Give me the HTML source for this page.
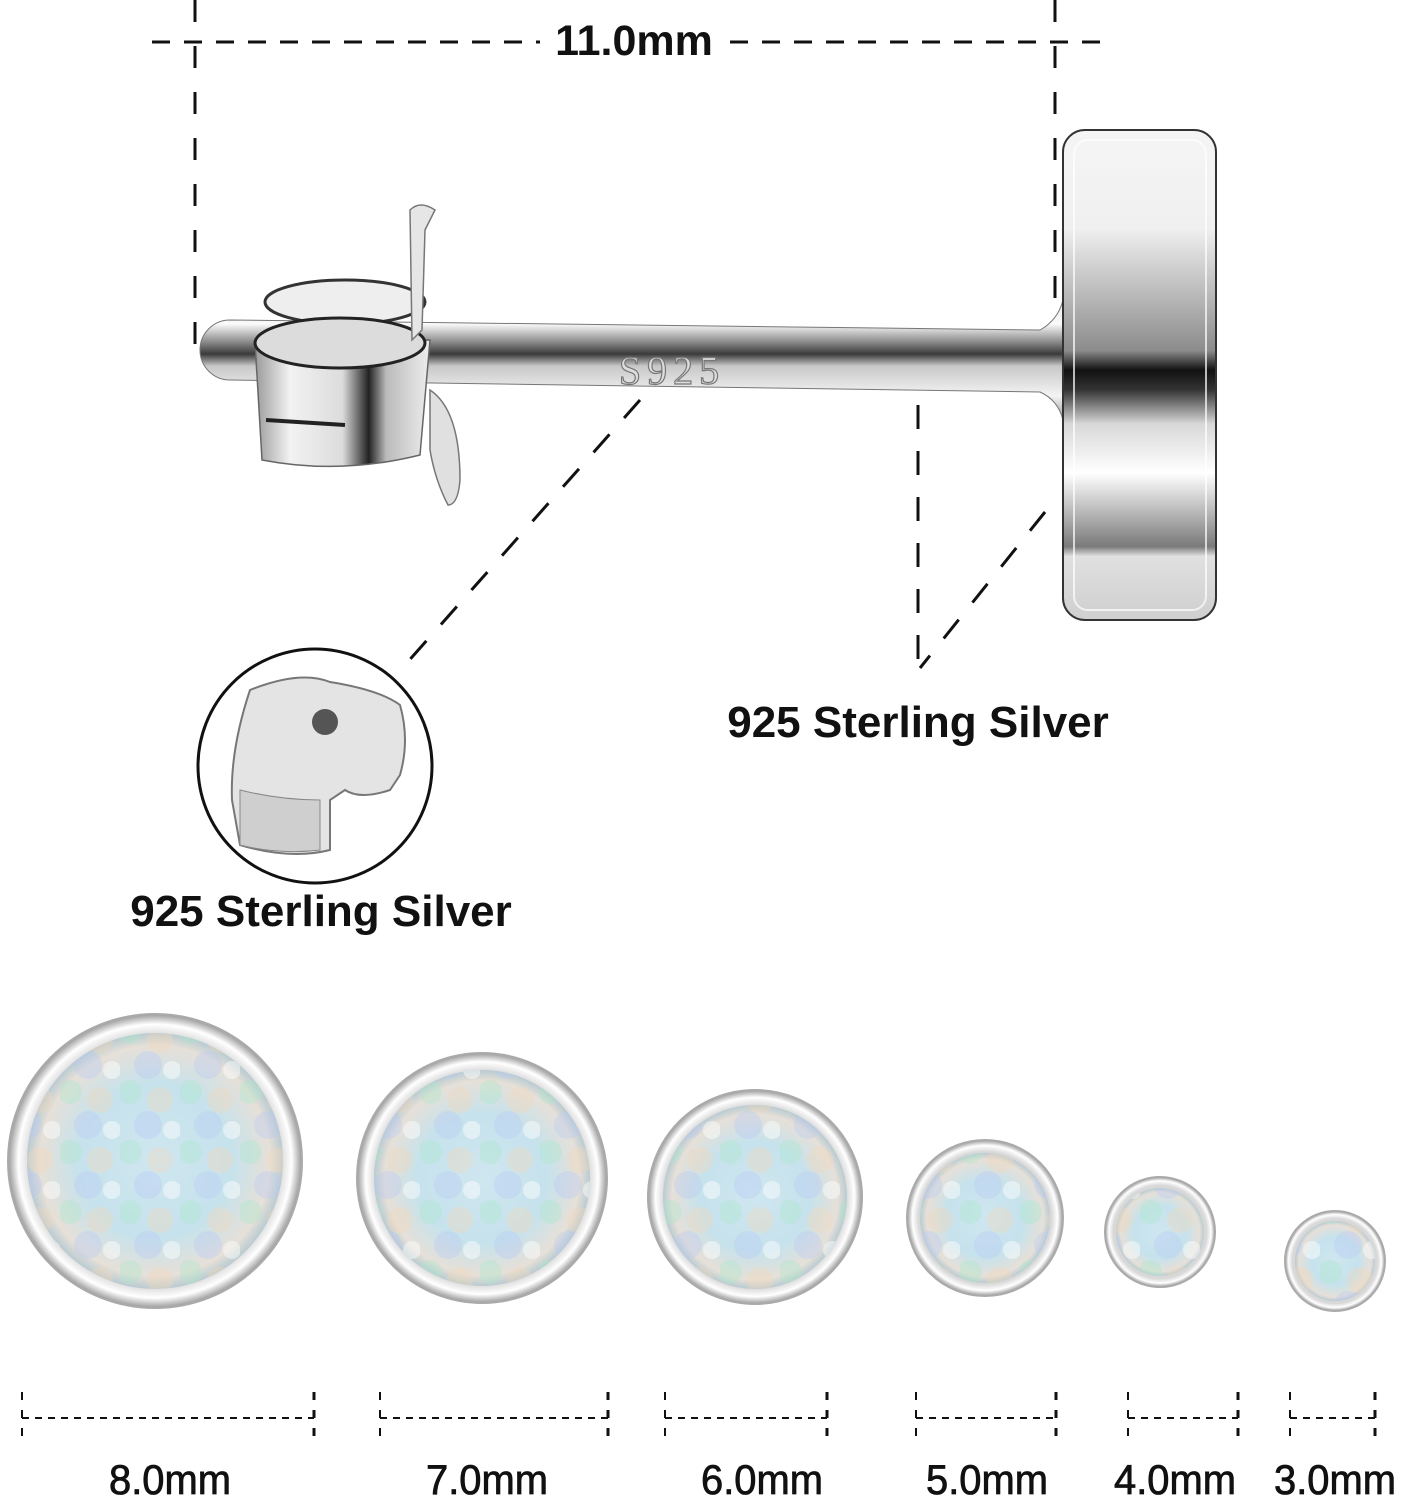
<!DOCTYPE html>
<html><head><style>
html,body{margin:0;padding:0;background:#fff;}
svg{display:block}
</style></head><body>
<svg width="1403" height="1500" viewBox="0 0 1403 1500" xmlns="http://www.w3.org/2000/svg">
<defs>
<linearGradient id="rod" x1="0" y1="0" x2="0" y2="1">
<stop offset="0" stop-color="#e8e8e8"/><stop offset="0.2" stop-color="#fafafa"/><stop offset="0.35" stop-color="#8a8a8a"/><stop offset="0.45" stop-color="#3a3a3a"/><stop offset="0.55" stop-color="#c8c8c8"/><stop offset="0.8" stop-color="#f4f4f4"/><stop offset="1" stop-color="#9a9a9a"/>
</linearGradient>
<linearGradient id="head" x1="0" y1="0" x2="0" y2="1">
<stop offset="0" stop-color="#f5f5f5"/><stop offset="0.2" stop-color="#f0f0f0"/><stop offset="0.45" stop-color="#8c8c8c"/><stop offset="0.49" stop-color="#111"/><stop offset="0.53" stop-color="#333"/><stop offset="0.6" stop-color="#d8d8d8"/><stop offset="0.7" stop-color="#ffffff"/><stop offset="0.85" stop-color="#7a7a7a"/><stop offset="0.87" stop-color="#e0e0e0"/><stop offset="1" stop-color="#cfcfcf"/>
</linearGradient>
<linearGradient id="cyl" x1="0" y1="0" x2="1" y2="0">
<stop offset="0" stop-color="#9a9a9a"/><stop offset="0.2" stop-color="#f2f2f2"/><stop offset="0.5" stop-color="#dcdcdc"/><stop offset="0.65" stop-color="#222"/><stop offset="0.75" stop-color="#bbb"/><stop offset="1" stop-color="#eee"/>
</linearGradient>
<radialGradient id="opal" cx="0.5" cy="0.5" r="0.5">
<stop offset="0" stop-color="#cfe6f0"/><stop offset="0.6" stop-color="#c6e2ec"/><stop offset="0.9" stop-color="#e6e0d8"/><stop offset="1" stop-color="#b9cbd2"/>
</radialGradient>
<radialGradient id="bez" cx="0.5" cy="0.5" r="0.5">
<stop offset="0.85" stop-color="#d8d8d8"/><stop offset="0.93" stop-color="#ffffff"/><stop offset="1" stop-color="#9a9a9a"/>
</radialGradient>
<pattern id="spots" width="60" height="60" patternUnits="userSpaceOnUse">
<circle cx="10" cy="12" r="12" fill="#a8e6c8" opacity="0.35"/>
<circle cx="40" cy="20" r="13" fill="#f2d7b8" opacity="0.35"/>
<circle cx="28" cy="45" r="14" fill="#b7c8f2" opacity="0.35"/>
<circle cx="52" cy="50" r="9" fill="#ffffff" opacity="0.45"/>
</pattern>
</defs>

<g stroke="#111" stroke-width="3" fill="none">
<line x1="152" y1="42" x2="540" y2="42" stroke-dasharray="18,14"/>
<line x1="730" y1="42" x2="1112" y2="42" stroke-dasharray="18,14"/>
<line x1="195" y1="0" x2="195" y2="345" stroke-dasharray="22,24"/>
<line x1="1055" y1="0" x2="1055" y2="330" stroke-dasharray="22,24"/>
<line x1="640" y1="400" x2="405" y2="665" stroke-dasharray="24,22"/>
<line x1="918" y1="405" x2="918" y2="670" stroke-dasharray="24,22"/>
<line x1="1045" y1="512" x2="920" y2="668" stroke-dasharray="24,22"/>
</g>
<text x="634" y="55" font-family="Liberation Sans, sans-serif" font-weight="bold" font-size="43" text-anchor="middle" fill="#111">11.0mm</text>

<path d="M230,320 L1040,330 Q1058,320 1063,300 L1063,420 Q1058,400 1040,392 L230,380 A30,30 0 0 1 230,320 Z" fill="url(#rod)" stroke="#777" stroke-width="1"/>
<text x="672" y="384" font-family="Liberation Serif, serif" font-size="40" text-anchor="middle" fill="#ddd" stroke="#777" stroke-width="1.2" letter-spacing="6">S925</text>

<ellipse cx="345" cy="302" rx="80" ry="22" fill="#eee" stroke="#333" stroke-width="3"/>
<path d="M255,342 L262,460 Q340,475 420,455 L430,340 Z" fill="url(#cyl)" stroke="#666" stroke-width="1.5"/>
<ellipse cx="340" cy="343" rx="85" ry="25" fill="#dcdcdc" stroke="#222" stroke-width="3"/>
<line x1="266" y1="420" x2="345" y2="425" stroke="#222" stroke-width="4"/>
<path d="M410,210 Q420,200 435,210 L425,230 L422,330 L412,340 Z" fill="#e6e6e6" stroke="#777" stroke-width="1.5"/>
<path d="M430,390 Q460,410 460,480 Q458,505 448,505 Q435,480 430,450 Z" fill="#e0e0e0" stroke="#777" stroke-width="1.5"/>

<rect x="1063" y="130" width="153" height="490" rx="22" fill="url(#head)" stroke="#333" stroke-width="2"/>
<rect x="1074" y="140" width="132" height="470" rx="14" fill="none" stroke="#fff" stroke-width="2" opacity="0.7"/>

<text x="918" y="737" font-family="Liberation Sans, sans-serif" font-weight="bold" font-size="44" text-anchor="middle" fill="#111">925 Sterling Silver</text>
<text x="321" y="926" font-family="Liberation Sans, sans-serif" font-weight="bold" font-size="44" text-anchor="middle" fill="#111">925 Sterling Silver</text>

<circle cx="315" cy="766" r="117" fill="#fff" stroke="#111" stroke-width="3"/>
<path d="M250,690 Q300,670 330,682 Q380,690 400,705 Q410,740 400,775 L390,790 Q360,800 345,790 L330,800 L330,850 Q290,860 240,845 L232,800 Q230,750 250,690 Z" fill="#e4e4e4" stroke="#777" stroke-width="2"/>
<circle cx="325" cy="722" r="13" fill="#555"/>
<path d="M240,790 Q280,800 320,800 L320,850 Q280,855 240,845 Z" fill="#cfcfcf" stroke="#888"/>

<g>
<circle cx="155" cy="1161" r="147" fill="url(#bez)" stroke="#aaa" stroke-width="2"/>
<circle cx="155" cy="1161" r="128" fill="url(#opal)"/><circle cx="155" cy="1161" r="128" fill="url(#spots)"/>
<circle cx="482" cy="1178" r="125" fill="url(#bez)" stroke="#aaa" stroke-width="2"/>
<circle cx="482" cy="1178" r="108" fill="url(#opal)"/><circle cx="482" cy="1178" r="108" fill="url(#spots)"/>
<circle cx="755" cy="1197" r="107" fill="url(#bez)" stroke="#aaa" stroke-width="2"/>
<circle cx="755" cy="1197" r="92" fill="url(#opal)"/><circle cx="755" cy="1197" r="92" fill="url(#spots)"/>
<circle cx="985" cy="1218" r="78" fill="url(#bez)" stroke="#aaa" stroke-width="2"/>
<circle cx="985" cy="1218" r="65" fill="url(#opal)"/><circle cx="985" cy="1218" r="65" fill="url(#spots)"/>
<circle cx="1160" cy="1232" r="55" fill="url(#bez)" stroke="#aaa" stroke-width="2"/>
<circle cx="1160" cy="1232" r="44" fill="url(#opal)"/><circle cx="1160" cy="1232" r="44" fill="url(#spots)"/>
<circle cx="1335" cy="1261" r="50" fill="url(#bez)" stroke="#aaa" stroke-width="2"/>
<circle cx="1335" cy="1261" r="40" fill="url(#opal)"/><circle cx="1335" cy="1261" r="40" fill="url(#spots)"/>
</g>

<g stroke="#111" stroke-width="2" fill="none">
<g stroke-dasharray="7,6">
<line x1="22" y1="1418" x2="314" y2="1418"/>
<line x1="380" y1="1418" x2="608" y2="1418"/>
<line x1="665" y1="1418" x2="827" y2="1418"/>
<line x1="916" y1="1418" x2="1056" y2="1418"/>
<line x1="1128" y1="1418" x2="1238" y2="1418"/>
<line x1="1290" y1="1418" x2="1375" y2="1418"/>
</g>
<g stroke-dasharray="8,10">
<line x1="22" y1="1392" x2="22" y2="1442"/><line x1="314" y1="1392" x2="314" y2="1442" stroke-width="3"/>
<line x1="380" y1="1392" x2="380" y2="1442"/><line x1="608" y1="1392" x2="608" y2="1442" stroke-width="3"/>
<line x1="665" y1="1392" x2="665" y2="1442"/><line x1="827" y1="1392" x2="827" y2="1442" stroke-width="3"/>
<line x1="916" y1="1392" x2="916" y2="1442"/><line x1="1056" y1="1392" x2="1056" y2="1442" stroke-width="3"/>
<line x1="1128" y1="1392" x2="1128" y2="1442"/><line x1="1238" y1="1392" x2="1238" y2="1442" stroke-width="3"/>
<line x1="1290" y1="1392" x2="1290" y2="1442"/><line x1="1375" y1="1392" x2="1375" y2="1442" stroke-width="3"/>
</g>
</g>
<g font-family="Liberation Sans, sans-serif" font-size="42" fill="#111" text-anchor="middle" stroke="#111" stroke-width="0.8">
<text x="170" y="1494" transform="translate(170 0) scale(0.95 1) translate(-170 0)">8.0mm</text>
<text x="487" y="1494" transform="translate(487 0) scale(0.95 1) translate(-487 0)">7.0mm</text>
<text x="762" y="1494" transform="translate(762 0) scale(0.95 1) translate(-762 0)">6.0mm</text>
<text x="987" y="1494" transform="translate(987 0) scale(0.95 1) translate(-987 0)">5.0mm</text>
<text x="1175" y="1494" transform="translate(1175 0) scale(0.95 1) translate(-1175 0)">4.0mm</text>
<text x="1335" y="1494" transform="translate(1335 0) scale(0.95 1) translate(-1335 0)">3.0mm</text>
</g>
</svg>
</body></html>
